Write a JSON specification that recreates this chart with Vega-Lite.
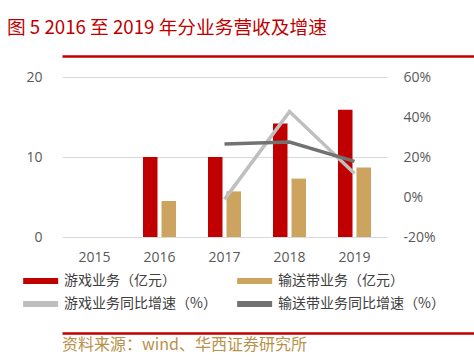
{
  "$schema": "https://vega.github.io/schema/vega-lite/v6.json",
  "background": "white",
  "padding": {"left": 5, "top": 19, "right": 5, "bottom": 5},
  "title": {
    "text": "图 5 2016 至 2019 年分业务营收及增速",
    "anchor": "start",
    "frame": "bounds",
    "offset": 18,
    "dx": 2,
    "font": "Noto Sans CJK SC",
    "fontSize": 18.7,
    "fontWeight": "normal",
    "color": "#C00000"
  },
  "columns": 1,
  "align": "none",
  "spacing": 5,
  "resolve": {"scale": {"x": "independent", "y": "independent", "color": "independent"}},
  "concat": [
    {
      "width": 450,
      "height": 9,
      "data": {"values": [{"v": 0}]},
      "mark": {"type": "point", "opacity": 0, "size": 0},
      "encoding": {
        "x": {"field": "v", "type": "quantitative", "scale": {"domain": [0, 1]},
          "axis": {"orient": "top", "domainColor": "#C00000", "domainWidth": 2.5, "domainCap": "butt", "labels": false, "ticks": false, "grid": false, "title": null}}
      }
    },
    {
      "width": 325,
      "height": 160,
      "layer": [
        {
          "data": {"values": [
            {"年份": "2016", "系列": "游戏业务（亿元）", "值": 10.0},
            {"年份": "2017", "系列": "游戏业务（亿元）", "值": 10.0},
            {"年份": "2018", "系列": "游戏业务（亿元）", "值": 14.2},
            {"年份": "2019", "系列": "游戏业务（亿元）", "值": 15.9},
            {"年份": "2016", "系列": "输送带业务（亿元）", "值": 4.5},
            {"年份": "2017", "系列": "输送带业务（亿元）", "值": 5.7},
            {"年份": "2018", "系列": "输送带业务（亿元）", "值": 7.3},
            {"年份": "2019", "系列": "输送带业务（亿元）", "值": 8.7}
          ]},
          "mark": {"type": "bar"},
          "encoding": {
            "x": {"field": "年份", "type": "ordinal",
              "scale": {"domain": ["2015", "2016", "2017", "2018", "2019"], "paddingInner": 0.492, "paddingOuter": 0.246},
              "axis": {"title": null, "domain": false, "ticks": false, "labelAngle": 0, "labelPadding": 13, "labelFont": "Open Sans", "labelFontSize": 14, "labelColor": "#595959", "grid": false}},
            "xOffset": {"field": "系列", "type": "nominal",
              "scale": {"domain": ["游戏业务（亿元）", "输送带业务（亿元）"], "paddingInner": 0.216}},
            "y": {"field": "值", "type": "quantitative",
              "scale": {"domain": [0, 20], "nice": false},
              "axis": {"title": null, "values": [0, 10, 20], "domain": false, "ticks": false, "labelPadding": 20, "labelFont": "Open Sans", "labelFontSize": 14, "labelColor": "#595959", "grid": true, "gridColor": "#d9d9d9", "gridWidth": 1}},
            "color": {"field": "系列", "type": "nominal",
              "scale": {"domain": ["游戏业务（亿元）", "游戏业务同比增速（%）", "输送带业务（亿元）", "输送带业务同比增速（%）"],
                "range": ["#C00000", "#BFBFBF", "#CCA460", "#727272"]},
              "legend": {
                "title": null, "orient": "none", "legendX": -57, "legendY": 180,
                "columns": 2, "columnPadding": 19, "rowPadding": 9, "padding": 17,
                "symbolType": "M-1,-0.5H5V0.5H-1Z", "symbolSize": 136, "symbolStrokeWidth": 0,
                "labelOffset": 28, "labelFont": "Noto Sans CJK SC", "labelFontSize": 14,
                "labelColor": "#404040", "labelLimit": 300
              }}
          }
        },
        {
          "data": {"values": [
            {"年份": "2017", "系列": "游戏业务同比增速（%）", "值": -1.2},
            {"年份": "2018", "系列": "游戏业务同比增速（%）", "值": 42.7},
            {"年份": "2019", "系列": "游戏业务同比增速（%）", "值": 11.8},
            {"年份": "2017", "系列": "输送带业务同比增速（%）", "值": 26.5},
            {"年份": "2018", "系列": "输送带业务同比增速（%）", "值": 27.5},
            {"年份": "2019", "系列": "输送带业务同比增速（%）", "值": 17.8}
          ]},
          "mark": {"type": "line", "strokeWidth": 3.5},
          "encoding": {
            "x": {"field": "年份", "type": "ordinal"},
            "y": {"field": "值", "type": "quantitative",
              "scale": {"domain": [-20, 60], "nice": false},
              "axis": {"title": null, "orient": "right", "values": [-20, 0, 20, 40, 60], "labelExpr": "datum.value + '%'", "domain": false, "ticks": false, "grid": false, "labelPadding": 16, "labelFont": "Open Sans", "labelFontSize": 14, "labelColor": "#595959"}},
            "color": {"field": "系列", "type": "nominal",
              "scale": {"domain": ["游戏业务（亿元）", "游戏业务同比增速（%）", "输送带业务（亿元）", "输送带业务同比增速（%）"],
                "range": ["#C00000", "#BFBFBF", "#CCA460", "#727272"]},
              "legend": null}
          }
        }
      ],
      "resolve": {"scale": {"y": "independent"}}
    },
    {
      "width": 450,
      "height": 1,
      "data": {"values": [{"v": 0}]},
      "mark": {"type": "point", "opacity": 0, "size": 0},
      "title": {
        "text": "资料来源：wind、华西证券研究所",
        "orient": "bottom",
        "anchor": "start",
        "frame": "group",
        "offset": 3,
        "font": "Noto Sans CJK SC",
        "fontSize": 16,
        "fontWeight": "normal",
        "color": "#B8914A"
      },
      "encoding": {
        "x": {"field": "v", "type": "quantitative", "scale": {"domain": [0, 1]},
          "axis": {"orient": "top", "domainColor": "#C00000", "domainWidth": 2.5, "domainCap": "butt", "labels": false, "ticks": false, "grid": false, "title": null}}
      }
    }
  ],
  "config": {
    "view": {"stroke": null}
  }
}
